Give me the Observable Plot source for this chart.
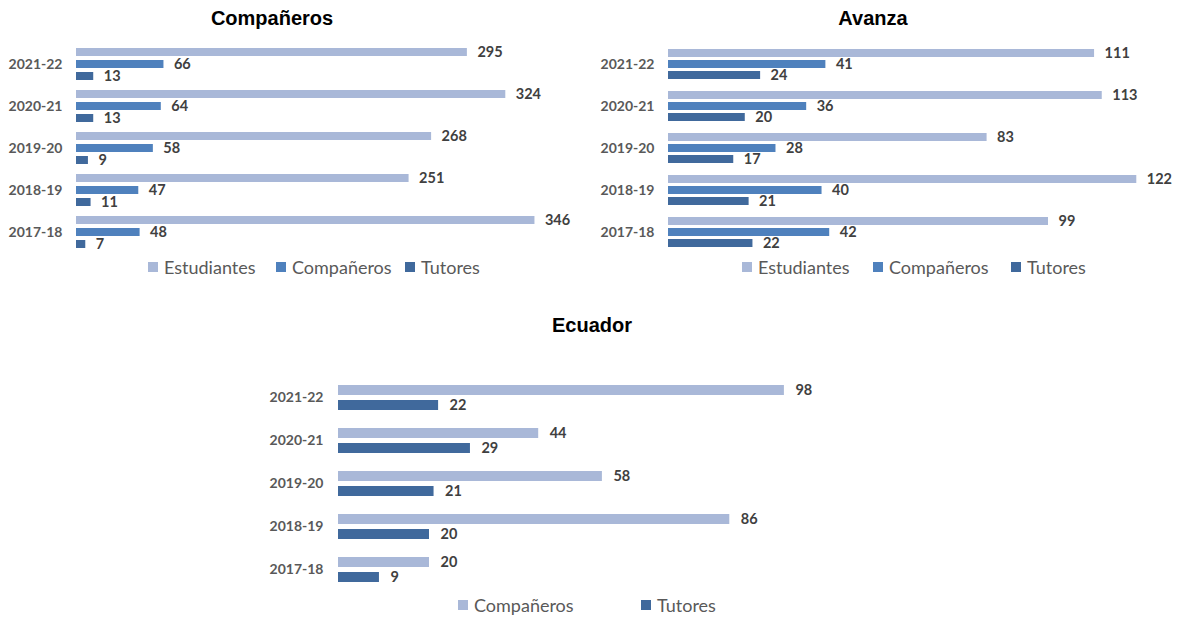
<!DOCTYPE html>
<html><head><meta charset="utf-8">
<script src="https://cdn.jsdelivr.net/npm/d3@7"></script>
<script src="https://cdn.jsdelivr.net/npm/@observablehq/plot@0.6"></script>
<style>
body{margin:0;background:#fff;}
#root{position:relative;width:1180px;height:619px;overflow:hidden;font-family:Lato,sans-serif;}
.title{position:absolute;font-family:"Liberation Sans",Arial,sans-serif;font-weight:bold;font-size:20px;line-height:20px;color:#000;transform:translateX(-50%);white-space:nowrap;}
.chart{position:absolute;}
.leg{position:absolute;display:flex;align-items:center;font-size:18px;line-height:20px;color:#595959;white-space:nowrap;}
.leg i{display:inline-block;width:10px;height:10px;margin-right:6px;}
</style></head><body><div id="root"></div>
<script>
const years = ["2021-22","2020-21","2019-20","2018-19","2017-18"];
const seriesA = ["Estudiantes","Compañeros","Tutores"];
const colorsA = ["#A9B8D8","#4F81BD","#40699C"];
const compEst = [295,324,268,251,346];
const compComp = [66,64,58,47,48];
const compTut = [13,13,9,11,7];
const avEst = [111,113,83,122,99];
const avComp = [41,36,28,40,42];
const avTut = [24,20,17,21,22];
const seriesE = ["Compañeros","Tutores"];
const colorsE = ["#A9B8D8","#40699C"];
const ecComp = [98,44,58,86,20];
const ecTut = [22,29,21,20,9];

const root = document.getElementById("root");

function table(series, arrays){
  return years.flatMap((yr,i)=>series.map((s,j)=>({year:yr, series:s, value:arrays[j][i]})));
}

function addTitle(text, cx, top){
  const d = document.createElement("div");
  d.className = "title"; d.textContent = text;
  d.style.left = cx+"px"; d.style.top = top+"px";
  root.appendChild(d);
}
function addLegend(series, colors, lefts, top){
  series.forEach((s,i)=>{
    const d = document.createElement("div");
    d.className = "leg"; d.style.left = lefts[i]+"px"; d.style.top = top+"px";
    const sw = document.createElement("i"); sw.style.background = colors[i];
    d.appendChild(sw); d.appendChild(document.createTextNode(s));
    root.appendChild(d);
  });
}
function addChart(o){
  const data = table(o.series, o.arrays);
  const svg = Plot.plot({
    width:o.width, height:o.height,
    marginTop:o.mt, marginBottom:o.mb, marginLeft:o.ml, marginRight:o.mr,
    facet:{data, y:"year"},
    fy:{domain:years, padding:0, label:null, tickSize:0, tickPadding:o.tp},
    y:{domain:o.series, axis:null, paddingInner:o.pi, paddingOuter:o.po},
    x:{domain:[0,o.xMax], axis:null},
    color:{domain:o.series, range:o.colors},
    style:{fontFamily:"Lato, sans-serif", fontSize:"14px", fontWeight:"bold", color:"#595959", background:"transparent", overflow:"visible"},
    marks:[
      Plot.barX(data, {x:"value", y:"series", fill:"series"}),
      Plot.text(data, {x:"value", y:"series", text:d=>String(d.value), dx:o.dx, textAnchor:"start", fill:"#404040", fontWeight:"bold", fontSize:14.5})
    ]
  });
  const wrap = document.createElement("div");
  wrap.className = "chart"; wrap.style.left = o.left+"px"; wrap.style.top = o.top+"px";
  wrap.appendChild(svg);
  root.appendChild(wrap);
}

addTitle("Compañeros", 272, 8);
addTitle("Avanza", 873, 8);
addTitle("Ecuador", 592, 315);

addChart({series:seriesA, arrays:[compEst,compComp,compTut], colors:colorsA,
  left:0, top:30, width:590, height:230, mt:12, mb:7, ml:76, mr:10.5, xMax:380,
  tp:14, pi:0.36, po:0.43, dx:10});
addChart({series:seriesA, arrays:[avEst,avComp,avTut], colors:colorsA,
  left:590, top:30, width:590, height:230, mt:12, mb:7, ml:78, mr:13, xMax:130,
  tp:14, pi:0.28, po:0.4, dx:10});
addChart({series:seriesE, arrays:[ecComp,ecTut], colors:colorsE,
  left:0, top:360, width:1180, height:240, mt:15, mb:7.5, ml:338, mr:341.5, xMax:110,
  tp:15, pi:0.31, po:0.5, dx:11});

addLegend(seriesA, colorsA, [148,276,405], 257);
addLegend(seriesA, colorsA, [742,873,1011], 257);
addLegend(seriesE, colorsE, [458,641], 595);
</script>
</body></html>
